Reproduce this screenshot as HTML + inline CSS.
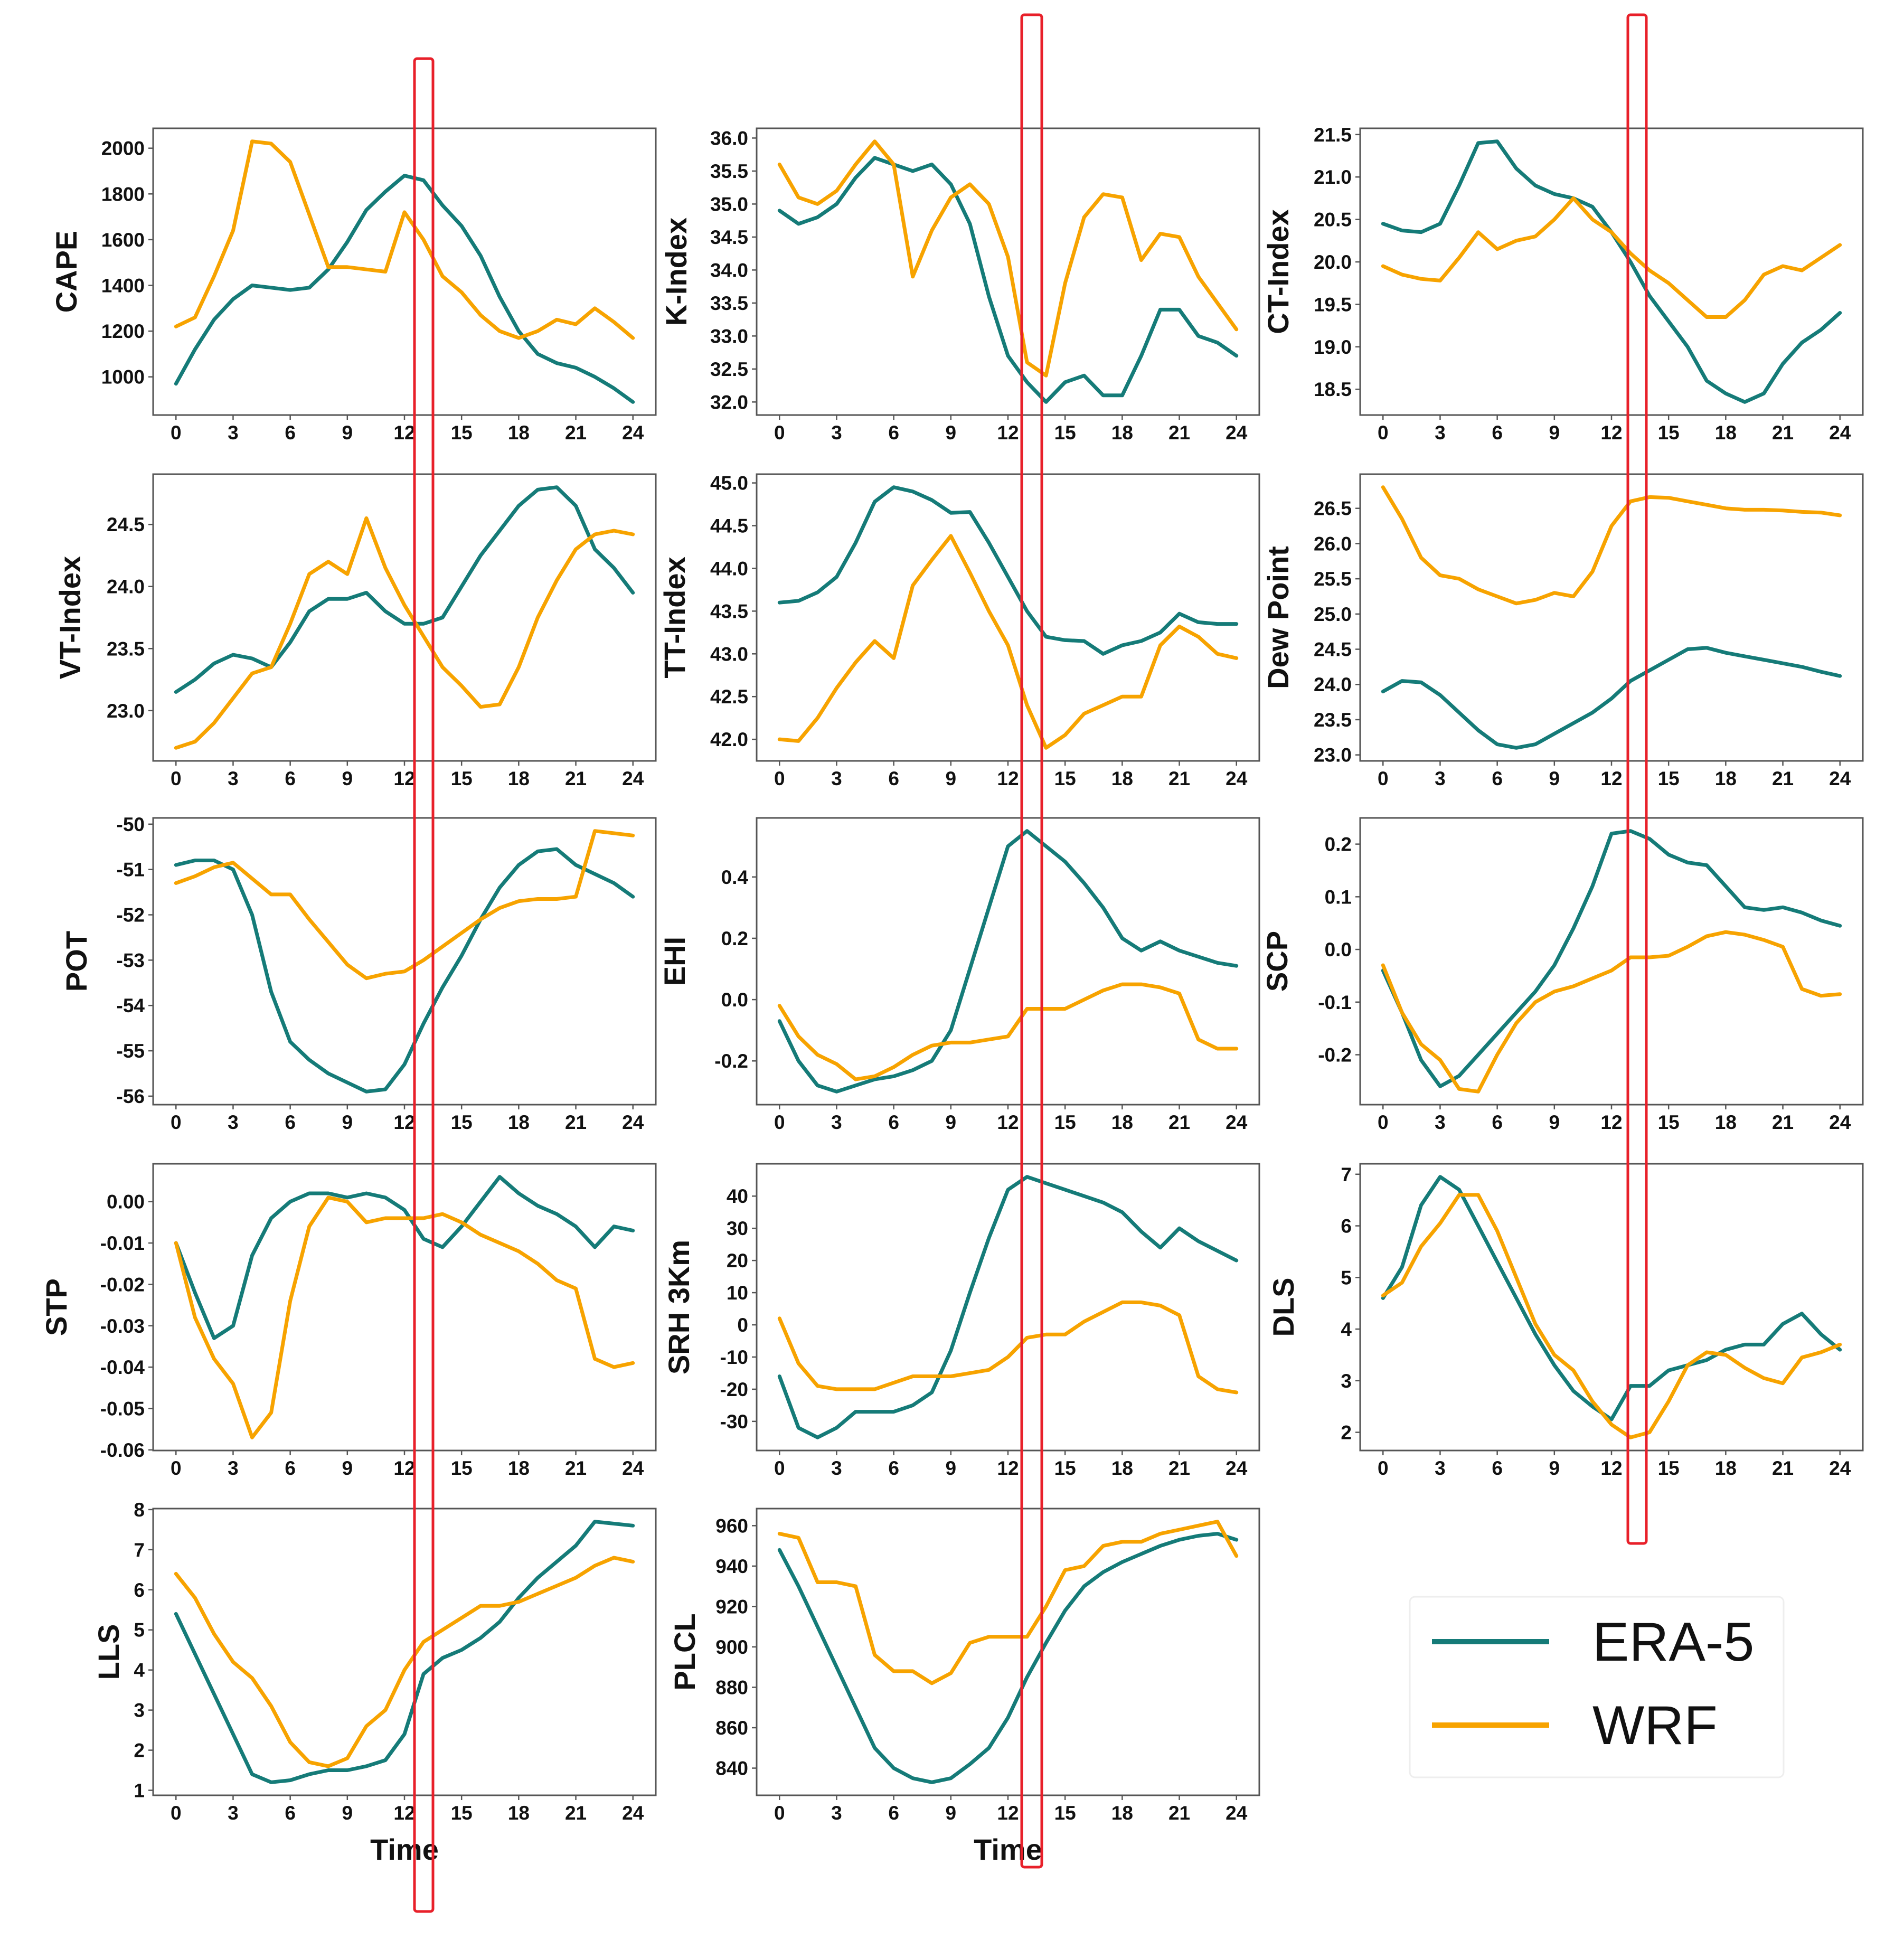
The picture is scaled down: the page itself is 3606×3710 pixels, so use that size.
<!DOCTYPE html>
<html><head><meta charset="utf-8"><style>
html,body{margin:0;padding:0;background:#fff}
svg{display:block}
text{font-family:"Liberation Sans","DejaVu Sans",sans-serif}
</style></head><body>
<svg id="fig" width="3606" height="3710" viewBox="0 0 3606 3710" xmlns="http://www.w3.org/2000/svg"></svg>
<script>
const hours = [0,1,2,3,4,5,6,7,8,9,10,11,12,13,14,15,16,17,18,19,20,21,22,23,24];
const xTickLabels = ["0","3","6","9","12","15","18","21","24"];
const xTickValues = [0,3,6,9,12,15,18,21,24];

const capeEra = [970,1120,1250,1340,1400,1390,1380,1390,1470,1590,1730,1810,1880,1860,1750,1660,1530,1350,1200,1100,1060,1040,1000,950,890];
const capeWrf = [1220,1260,1440,1640,2030,2020,1940,1710,1480,1480,1470,1460,1720,1600,1440,1370,1270,1200,1170,1200,1250,1230,1300,1240,1170];
const capeTicks = [1000,1200,1400,1600,1800,2000];

const kEra = [34.9,34.7,34.8,35.0,35.4,35.7,35.6,35.5,35.6,35.3,34.7,33.6,32.7,32.3,32.0,32.3,32.4,32.1,32.1,32.7,33.4,33.4,33.0,32.9,32.7];
const kWrf = [35.6,35.1,35.0,35.2,35.6,35.95,35.6,33.9,34.6,35.1,35.3,35.0,34.2,32.6,32.4,33.8,34.8,35.15,35.1,34.15,34.55,34.5,33.9,33.5,33.1];
const kTicks = [32.0,32.5,33.0,33.5,34.0,34.5,35.0,35.5,36.0];

const ctEra = [20.45,20.37,20.35,20.45,20.9,21.4,21.42,21.1,20.9,20.8,20.75,20.65,20.35,20.0,19.6,19.3,19.0,18.6,18.45,18.35,18.45,18.8,19.05,19.2,19.4];
const ctWrf = [19.95,19.85,19.8,19.78,20.05,20.35,20.15,20.25,20.3,20.5,20.75,20.5,20.35,20.1,19.9,19.75,19.55,19.35,19.35,19.55,19.85,19.95,19.9,20.05,20.2];
const ctTicks = [18.5,19.0,19.5,20.0,20.5,21.0,21.5];

const vtEra = [23.15,23.25,23.38,23.45,23.42,23.35,23.55,23.8,23.9,23.9,23.95,23.8,23.7,23.7,23.75,24.0,24.25,24.45,24.65,24.78,24.8,24.65,24.3,24.15,23.95];
const vtWrf = [22.7,22.75,22.9,23.1,23.3,23.35,23.7,24.1,24.2,24.1,24.55,24.15,23.85,23.6,23.35,23.2,23.03,23.05,23.35,23.75,24.05,24.3,24.42,24.45,24.42];
const vtTicks = [23.0,23.5,24.0,24.5];

const ttEra = [43.6,43.62,43.72,43.9,44.3,44.78,44.95,44.9,44.8,44.65,44.66,44.3,43.9,43.5,43.2,43.16,43.15,43.0,43.1,43.15,43.25,43.47,43.37,43.35,43.35];
const ttWrf = [42.0,41.98,42.25,42.6,42.9,43.15,42.95,43.8,44.1,44.38,43.95,43.5,43.1,42.4,41.9,42.05,42.3,42.4,42.5,42.5,43.1,43.32,43.2,43.0,42.95];
const ttTicks = [42.0,42.5,43.0,43.5,44.0,44.5,45.0];

const dewEra = [23.9,24.05,24.03,23.85,23.6,23.35,23.15,23.1,23.15,23.3,23.45,23.6,23.8,24.05,24.2,24.35,24.5,24.52,24.45,24.4,24.35,24.3,24.25,24.18,24.12];
const dewWrf = [26.8,26.35,25.8,25.55,25.5,25.35,25.25,25.15,25.2,25.3,25.25,25.6,26.25,26.6,26.66,26.65,26.6,26.55,26.5,26.48,26.48,26.47,26.45,26.44,26.4];
const dewTicks = [23.0,23.5,24.0,24.5,25.0,25.5,26.0,26.5];

const potEra = [-50.9,-50.8,-50.8,-51.0,-52.0,-53.7,-54.8,-55.2,-55.5,-55.7,-55.9,-55.85,-55.3,-54.4,-53.6,-52.9,-52.1,-51.4,-50.9,-50.6,-50.55,-50.9,-51.1,-51.3,-51.6];
const potWrf = [-51.3,-51.15,-50.95,-50.85,-51.2,-51.55,-51.55,-52.1,-52.6,-53.1,-53.4,-53.3,-53.25,-53.0,-52.7,-52.4,-52.1,-51.85,-51.7,-51.65,-51.65,-51.6,-50.15,-50.2,-50.25];
const potTicks = [-56,-55,-54,-53,-52,-51,-50];

const ehiEra = [-0.07,-0.2,-0.28,-0.3,-0.28,-0.26,-0.25,-0.23,-0.2,-0.1,0.1,0.3,0.5,0.55,0.5,0.45,0.38,0.3,0.2,0.16,0.19,0.16,0.14,0.12,0.11];
const ehiWrf = [-0.02,-0.12,-0.18,-0.21,-0.26,-0.25,-0.22,-0.18,-0.15,-0.14,-0.14,-0.13,-0.12,-0.03,-0.03,-0.03,0.0,0.03,0.05,0.05,0.04,0.02,-0.13,-0.16,-0.16];
const ehiTicks = [-0.2,0.0,0.2,0.4];

const scpEra = [-0.04,-0.12,-0.21,-0.26,-0.24,-0.20,-0.16,-0.12,-0.08,-0.03,0.04,0.12,0.22,0.225,0.21,0.18,0.165,0.16,0.12,0.08,0.075,0.08,0.07,0.055,0.045];
const scpWrf = [-0.03,-0.12,-0.18,-0.21,-0.265,-0.27,-0.2,-0.14,-0.1,-0.08,-0.07,-0.055,-0.04,-0.015,-0.015,-0.012,0.005,0.025,0.033,0.028,0.018,0.005,-0.075,-0.088,-0.085];
const scpTicks = [-0.2,-0.1,0.0,0.1,0.2];

const stpEra = [-0.010,-0.022,-0.033,-0.030,-0.013,-0.004,0.000,0.002,0.002,0.001,0.002,0.001,-0.002,-0.009,-0.011,-0.006,0.000,0.006,0.002,-0.001,-0.003,-0.006,-0.011,-0.006,-0.007];
const stpWrf = [-0.010,-0.028,-0.038,-0.044,-0.057,-0.051,-0.024,-0.006,0.001,0.000,-0.005,-0.004,-0.004,-0.004,-0.003,-0.005,-0.008,-0.010,-0.012,-0.015,-0.019,-0.021,-0.038,-0.040,-0.039];
const stpTicks = [-0.06,-0.05,-0.04,-0.03,-0.02,-0.01,0.00];

const srhEra = [-16,-32,-35,-32,-27,-27,-27,-25,-21,-8,10,27,42,46,44,42,40,38,35,29,24,30,26,23,20];
const srhWrf = [2,-12,-19,-20,-20,-20,-18,-16,-16,-16,-15,-14,-10,-4,-3,-3,1,4,7,7,6,3,-16,-20,-21];
const srhTicks = [-30,-20,-10,0,10,20,30,40];

const dlsEra = [4.6,5.2,6.4,6.95,6.7,6.0,5.3,4.6,3.9,3.3,2.8,2.5,2.25,2.9,2.9,3.2,3.3,3.4,3.6,3.7,3.7,4.1,4.3,3.9,3.6];
const dlsWrf = [4.65,4.9,5.6,6.05,6.6,6.6,5.9,5.0,4.1,3.5,3.2,2.6,2.15,1.9,2.0,2.6,3.3,3.55,3.5,3.25,3.05,2.95,3.45,3.55,3.7];
const dlsTicks = [2,3,4,5,6,7];

const llsEra = [5.4,4.4,3.4,2.4,1.4,1.2,1.25,1.4,1.5,1.5,1.6,1.75,2.4,3.9,4.3,4.5,4.8,5.2,5.8,6.3,6.7,7.1,7.7,7.65,7.6];
const llsWrf = [6.4,5.8,4.9,4.2,3.8,3.1,2.2,1.7,1.6,1.8,2.6,3.0,4.0,4.7,5.0,5.3,5.6,5.6,5.7,5.9,6.1,6.3,6.6,6.8,6.7];
const llsTicks = [1,2,3,4,5,6,7,8];

const plclEra = [948,930,910,890,870,850,840,835,833,835,842,850,865,885,902,918,930,937,942,946,950,953,955,956,953];
const plclWrf = [956,954,932,932,930,896,888,888,882,887,902,905,905,905,920,938,940,950,952,952,956,958,960,962,945];
const plclTicks = [840,860,880,900,920,940,960];

const panelLabels = ["CAPE","K-Index","CT-Index","VT-Index","TT-Index","Dew Point","POT","EHI","SCP","STP","SRH 3Km","DLS","LLS","PLCL"];
const panelEra = [capeEra,kEra,ctEra,vtEra,ttEra,dewEra,potEra,ehiEra,scpEra,stpEra,srhEra,dlsEra,llsEra,plclEra];
const panelWrf = [capeWrf,kWrf,ctWrf,vtWrf,ttWrf,dewWrf,potWrf,ehiWrf,scpWrf,stpWrf,srhWrf,dlsWrf,llsWrf,plclWrf];
const panelTicks = [capeTicks,kTicks,ctTicks,vtTicks,ttTicks,dewTicks,potTicks,ehiTicks,scpTicks,stpTicks,srhTicks,dlsTicks,llsTicks,plclTicks];
const panelDecimals = [0,1,1,1,1,1,0,1,1,2,0,0,0,0];

const NS = "http://www.w3.org/2000/svg";
const svg = document.getElementById("fig");
const colX = [290,1433,2576];
const rowY = [243,898,1549,2204,2857];
const W = 952, H = 543;
const labelOff = [165,153,156,158,156,156,146,156,158,184,148,146,85,137];
const ERA_C = "#157b78", WRF_C = "#f7a300";

function mk(tag, attrs, parent){
  const e = document.createElementNS(NS, tag);
  for (const k in attrs) e.setAttribute(k, attrs[k]);
  (parent||svg).appendChild(e);
  return e;
}

panelLabels.forEach((lab, i) => {
  const c = i % 3, r = Math.floor(i / 3);
  const L = colX[c], T = rowY[r];
  const g = mk("g", {});
  
  
  const era = panelEra[i], wrf = panelWrf[i];
  const all = era.concat(wrf);
  let mn = Math.min(...all), mx = Math.max(...all);
  const pad = (mx - mn) * 0.05; mn -= pad; mx += pad;
  const xs = v => L + (v + 1.2) / 26.4 * W;
  const ys = v => T + H - (v - mn) / (mx - mn) * H;
  // frame
  const fr = mk("rect", {x:L, y:T, width:W, height:H, fill:"none", stroke:"#555", "stroke-width":3}, g);
  
  
  // x ticks
  xTickValues.forEach((v, k) => {
    const x = xs(v);
    mk("line", {x1:x, x2:x, y1:T+H, y2:T+H+9, stroke:"#555", "stroke-width":2.5}, g);
    const t = mk("text", {x:x, y:T+H+46, "text-anchor":"middle", "font-size":37, "font-weight":"bold", fill:"#111"}, g);
    t.textContent = xTickLabels[k];
    
    
  });
  // y ticks
  panelTicks[i].forEach(v => {
    const y = ys(v);
    mk("line", {x1:L-9, x2:L, y1:y, y2:y, stroke:"#555", "stroke-width":2.5}, g);
    const t = mk("text", {x:L-16, y:y+13, "text-anchor":"end", "font-size":37, "font-weight":"bold", fill:"#111"}, g);
    t.textContent = v.toFixed(panelDecimals[i]);
    
    
  });
  // y label
  const yl = mk("text", {x:0, y:0, transform:`translate(${L-labelOff[i]+20},${T+H/2}) rotate(-90)`, "text-anchor":"middle", "font-size":56, "font-weight":"bold", fill:"#111"}, g);
  yl.textContent = lab;
  
  
  // series
  [[era, ERA_C, 'era5-line'], [wrf, WRF_C, 'wrf-line']].forEach(([d, col, nm]) => {
    const p = d.map((v, k) => (k ? "L" : "M") + xs(hours[k]).toFixed(1) + "," + ys(v).toFixed(1)).join(" ");
    const pe = mk("path", {d:p, fill:"none", stroke:col, "stroke-width":7, "stroke-linejoin":"round", "stroke-linecap":"round"}, g);
    
    
  });
  if (r === 4) {
    const tt = mk("text", {x:L + W/2, y:T+H+122, "text-anchor":"middle", "font-size":56, "font-weight":"bold", fill:"#111"}, g);
    tt.textContent = "Time";
    
    
  }
});

// red highlight boxes
[[785,111,35,3509],[1935,28,38,3508],[3083,28,35,2895]].forEach((b, k) => {
  const rb = mk("rect", {x:b[0], y:b[1], width:b[2], height:b[3], rx:5, fill:"none", stroke:"#e8202a", "stroke-width":5});
  
  
});

// legend
const lg = mk("g", {});


mk("rect", {x:2670, y:3024, width:708, height:342, rx:10, fill:"#fff", stroke:"#eee", "stroke-width":3}, lg);
[[3109, ERA_C, "ERA-5"], [3267, WRF_C, "WRF"]].forEach(([y, col, txt]) => {
  const ln = mk("line", {x1:2712, x2:2934, y1:y, y2:y, stroke:col, "stroke-width":10}, lg);
  
  
  const t = mk("text", {x:3016, y:y+36, "font-size":104, fill:"#111", "font-family":"DejaVu Sans, Liberation Sans, sans-serif"}, lg);
  t.textContent = txt;
  
  
});
</script>
</body></html>
